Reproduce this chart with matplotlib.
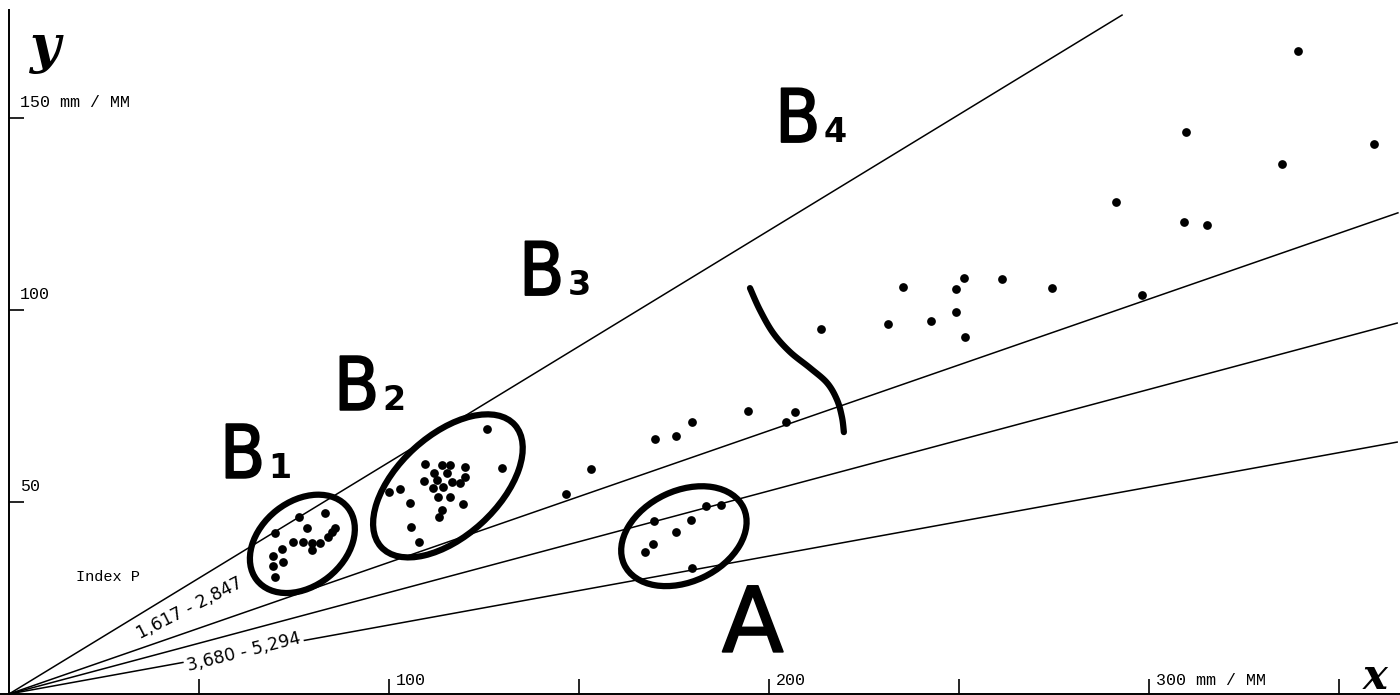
import matplotlib
matplotlib.use("Agg")
import numpy as np
import matplotlib.pyplot as plt
import matplotlib.patheffects as pe
from matplotlib.patches import Ellipse

# ---------------- data ----------------
# boundary lines of the Index P classes: from origin to these end points
line_x_end = [292.9, 365.5, 365.3, 365.3]
line_y_end = [176.8, 125.3, 96.6, 65.6]

# group B1
b1_x = [76.3, 83.2, 70.0, 78.4, 74.7, 77.4, 79.7, 79.7, 81.8, 83.9, 85.8, 85.0,
        71.8, 69.5, 72.1, 69.5, 70.0]
b1_y = [46.1, 47.1, 41.9, 43.2, 39.6, 39.6, 39.3, 37.5, 39.3, 40.9, 43.2, 42.2,
        37.8, 35.9, 34.4, 33.3, 30.5]

# group B2
b2_x = [125.8, 129.7, 100.0, 102.9, 105.5, 105.8, 107.9, 109.5, 113.9, 116.1,
        120.0, 111.8, 115.3, 120.0, 109.2, 112.6, 116.6, 118.7, 111.6, 114.2,
        112.9, 116.1, 119.5, 113.9, 113.2]
b2_y = [69.0, 58.9, 52.6, 53.4, 49.7, 43.5, 39.6, 59.9, 59.6, 59.6,
        59.1, 57.6, 57.6, 56.5, 55.5, 55.7, 55.2, 54.9, 53.6, 53.9,
        51.3, 51.3, 49.5, 47.9, 46.1]

# group A
a_x = [183.4, 187.4, 169.7, 179.5, 175.5, 169.5, 167.4, 179.7]
a_y = [49.0, 49.2, 45.1, 45.3, 42.2, 39.1, 37.0, 32.8]

# B3 chain
b3_x = [146.6, 153.2, 170.0, 175.5, 179.7, 194.5, 206.8, 204.5]
b3_y = [52.1, 58.6, 66.4, 67.2, 70.8, 73.7, 73.4, 70.8]

# points beyond the bracket
b4_x = [339.2, 309.7, 359.2, 335.0, 291.3, 309.2, 315.3, 298.2, 213.7, 235.3,
        231.3, 242.6, 251.3, 249.2, 249.2, 251.6, 261.3, 274.5]
b4_y = [167.4, 146.4, 143.2, 138.0, 128.1, 122.9, 122.1, 103.9, 95.1, 106.0,
        96.4, 97.1, 108.3, 105.5, 99.5, 93.0, 108.1, 105.7]

# axis ticks
x_ticks = [50, 100, 150, 200, 250, 300, 350]
x_tick_labels = ["", "100", "", "200", "", "300 mm / MM", ""]
y_ticks = [50, 100, 150]
y_tick_labels = ["50", "100", "150 mm / MM"]

# class labels
index_labels = ["1,617 - 2,847", "3,680 - 5,294"]

# bracket separating B3 / B4 (hand-drawn stroke)
br_x = [195.0, 197.6, 201.1, 205.5, 210.8, 215.3, 217.9, 219.2, 219.7]
br_y = [105.7, 100.0, 94.0, 89.1, 84.9, 81.0, 76.6, 72.1, 68.2]


def smooth(xs, ys, n=12):
    """Catmull-Rom smoothing of a hand-drawn stroke."""
    p = np.column_stack([xs, ys]).astype(float)
    p = np.vstack([p[0], p, p[-1]])
    out = []
    t = np.linspace(0, 1, n, endpoint=False)[:, None]
    for i in range(1, len(p) - 2):
        p0, p1, p2, p3 = p[i - 1], p[i], p[i + 1], p[i + 2]
        seg = 0.5 * ((2 * p1) + (-p0 + p2) * t + (2 * p0 - 5 * p1 + 4 * p2 - p3) * t ** 2
                     + (-p0 + 3 * p1 - 3 * p2 + p3) * t ** 3)
        out.append(seg)
    out.append(p[-2][None, :])
    out = np.vstack(out)
    return out[:, 0], out[:, 1]


# ---------------- figure ----------------
mono = "Liberation Mono"
thick = [pe.withStroke(linewidth=1.3, foreground="black")]

fig = plt.figure(figsize=(14, 6.95), dpi=100)
ax = fig.add_axes([0, 0, 1, 1])
ax.set_xlim(-2.37, 366.05)
ax.set_ylim(-0.26, 180.73)

for s in ("top", "right"):
    ax.spines[s].set_visible(False)
ax.spines["left"].set_position(("data", 0))
ax.spines["bottom"].set_position(("data", 0))
ax.spines["left"].set_bounds(0, 178)
ax.spines["left"].set_linewidth(1.4)
ax.spines["bottom"].set_linewidth(1.4)

ax.set_xticks(x_ticks)
ax.set_yticks(y_ticks)
ax.tick_params(axis="x", direction="in", length=11, width=1.2, labelbottom=False)
ax.tick_params(axis="y", direction="in", length=11, width=1.2, labelleft=False)

for v, lab in zip(x_ticks, x_tick_labels):
    if lab:
        ax.annotate(lab, xy=(v, 0), xytext=(5, 10), textcoords="offset points",
                    ha="left", va="center", family=mono, fontsize=12)
for v, lab in zip(y_ticks, y_tick_labels):
    ax.annotate(lab, xy=(0, v), xytext=(8, 11), textcoords="offset points",
                ha="left", va="center", family=mono, fontsize=12)

# axis names
ax.text(5.5, 168, "y", family="DejaVu Serif", style="italic", weight="bold",
        fontsize=38, ha="left", va="center")
ax.text(356.3, 4.5, "x", family="DejaVu Serif", style="italic", weight="bold",
        fontsize=30, ha="left", va="center")

# boundary lines
for xe, ye in zip(line_x_end, line_y_end):
    ax.plot([0, xe], [0, ye], color="black", lw=1.1, zorder=2)

# points
for xs, ys in ((b1_x, b1_y), (b2_x, b2_y), (a_x, a_y), (b3_x, b3_y), (b4_x, b4_y)):
    ax.plot(xs, ys, "o", color="black", ms=6.3, mec="none", zorder=4)

# group outlines
for (cx, cy, w, h, ang) in ((77.2, 39.1, 30.5, 22.1, 38),
                            (115.5, 54.2, 47.4, 26.3, 42),
                            (177.6, 41.1, 34.7, 23.7, 25)):
    ax.add_patch(Ellipse((cx, cy), w, h, angle=ang, fill=False,
                         edgecolor="black", lw=4.5, zorder=3))

sx, sy = smooth(br_x, br_y)
ax.plot(sx, sy, color="black", lw=4.5, solid_capstyle="round",
        solid_joinstyle="round", zorder=3)

# region letters
for (bx, by, d) in ((55.5, 56.3, "1"), (85.5, 74.0, "2"),
                    (134.2, 103.9, "3"), (201.6, 143.75, "4")):
    ax.text(bx, by, "B", family="DejaVu Sans", fontstretch="condensed",
            fontsize=53, ha="left", va="baseline", path_effects=thick)
    ax.text(bx + 12.8, by, d, family="DejaVu Sans", weight="bold", fontsize=24,
            ha="left", va="baseline")
ax.text(187.6, 11.0, "A", family="DejaVu Sans", fontsize=65, ha="left",
        va="baseline", path_effects=thick)

# index labels
ax.text(17.5, 30.5, "Index P", family=mono, fontsize=11, ha="left", va="center")
ax.text(47.6, 22.4, index_labels[0], family="DejaVu Sans", fontsize=12.5,
        rotation=27, rotation_mode="anchor", ha="center", va="center", zorder=5)
ax.text(61.8, 10.9, index_labels[1], family="DejaVu Sans", fontsize=12.5,
        rotation=14, rotation_mode="anchor", ha="center", va="center", zorder=5,
        bbox=dict(boxstyle="square,pad=0.15", fc="white", ec="none"))

fig.savefig("out.png", dpi=100)
